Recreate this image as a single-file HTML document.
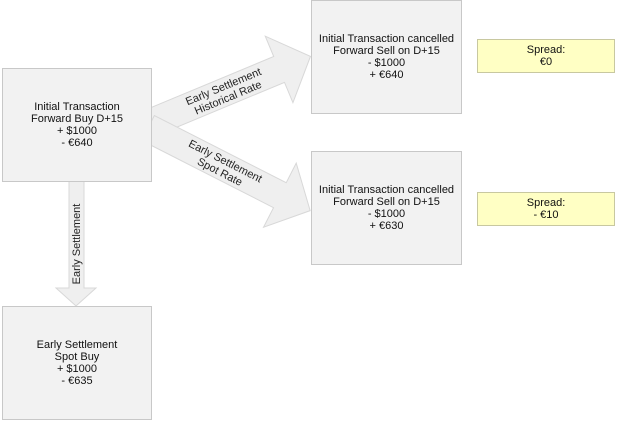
<!DOCTYPE html>
<html><head><style>
body{margin:0;width:629px;height:421px;background:#fff;font-family:"Liberation Sans",sans-serif;position:relative;overflow:hidden}
.b{position:absolute;background:#f2f2f2;border:1px solid #c8c8c8;box-sizing:border-box;display:flex;align-items:center;justify-content:center;text-align:center;font-size:11px;line-height:12px;color:#111}
.s{position:absolute;background:#ffffc4;border:1px solid #c8c8a0;box-sizing:border-box;text-align:center;font-size:11px;line-height:12px;padding-top:4px;color:#111}
svg{position:absolute;left:0;top:0}
</style></head><body>
<svg width="629" height="421">
<g fill="#efefef" stroke="#d8d8d8" stroke-width="1">
<g transform="translate(148,124) rotate(-22.6)">
<polygon points="0,-14 142,-14 142,-36 176,0 142,36 142,14 0,14"/>
<text x="84" y="-2" font-size="11" text-anchor="middle" fill="#222" stroke="none" font-family="Liberation Sans">Early Settlement</text>
<text x="84" y="10" font-size="11" text-anchor="middle" fill="#222" stroke="none" font-family="Liberation Sans">Historical Rate</text>
</g>
<g transform="translate(148,128) rotate(27)">
<polygon points="0,-14 148,-14 148,-36 182,0 148,36 148,14 0,14"/>
<text x="84" y="-2" font-size="11" text-anchor="middle" fill="#222" stroke="none" font-family="Liberation Sans">Early Settlement</text>
<text x="84" y="10" font-size="11" text-anchor="middle" fill="#222" stroke="none" font-family="Liberation Sans">Spot Rate</text>
</g>
<polygon points="69,181 84,181 84,288 96,288 76,306 56,288 69,288"/>
<text transform="translate(80,244) rotate(-90)" font-size="11" text-anchor="middle" fill="#222" stroke="none" font-family="Liberation Sans">Early Settlement</text>
</g>
</svg>
<div class="b" style="left:2px;top:68px;width:150px;height:114px">Initial Transaction<br>Forward Buy D+15<br>+ $1000<br>- €640</div>
<div class="b" style="left:2px;top:306px;width:150px;height:114px">Early Settlement<br>Spot Buy<br>+ $1000<br>- €635</div>
<div class="b" style="left:311px;top:0px;width:151px;height:114px">Initial Transaction cancelled<br>Forward Sell on D+15<br>- $1000<br>+ €640</div>
<div class="b" style="left:311px;top:151px;width:151px;height:114px">Initial Transaction cancelled<br>Forward Sell on D+15<br>- $1000<br>+ €630</div>
<div class="s" style="left:477px;top:39px;width:138px;height:34px">Spread:<br>€0</div>
<div class="s" style="left:477px;top:192px;width:138px;height:34px">Spread:<br>- €10</div>
</body></html>
